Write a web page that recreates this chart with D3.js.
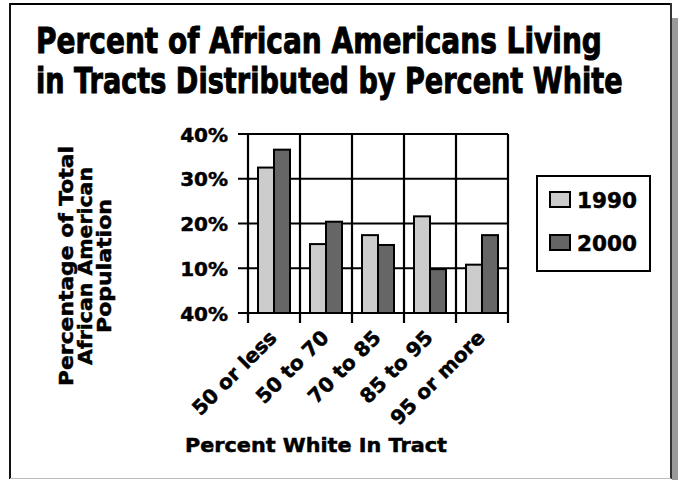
<!DOCTYPE html>
<html>
<head>
<meta charset="utf-8">
<script src="https://cdn.jsdelivr.net/npm/d3@7"></script>
<style>
html,body{margin:0;padding:0;background:#fff;}
svg{display:block;}
text{font-family:"DejaVu Sans",sans-serif;font-weight:bold;fill:#000;stroke:#000;stroke-width:0.5px;}
</style>
</head>
<body>
<svg id="chart" width="678" height="480"></svg>
<script>
// ---- data ----
const categories = ["50 or less", "50 to 70", "70 to 85", "85 to 95", "95 or more"];
const series = ["1990", "2000"];
const values1990 = [32.5, 15.4, 17.4, 21.6, 10.8];
const values2000 = [36.5, 20.4, 15.2, 9.8, 17.4];
const tickValues = [0, 10, 20, 30, 40];
const tickLabels = ["40%", "10%", "20%", "30%", "40%"];
const titleLines = ["Percent of African Americans Living", "in Tracts Distributed by Percent White"];
const yTitleLines = ["Percentage of Total", "African American", "Population"];
const xTitle = "Percent White In Tract";
const colors = {"1990": "#cccccc", "2000": "#666666"};

const svg = d3.select("#chart");

// place a text at (x,y) and squeeze it horizontally to width w
function fitText(parent, str, x, y, size, w, anchor) {
  const t = parent.append("text").attr("x", 0).attr("y", 0).attr("font-size", size)
    .attr("text-anchor", anchor || "start").text(str);
  const n = t.node().getComputedTextLength();
  t.attr("transform", `translate(${x},${y}) scale(${w / n},1)`);
  return t;
}

// frame
svg.append("rect").attr("x", 672).attr("y", 18).attr("width", 6).attr("height", 462).attr("fill", "#9a9a9a");
svg.append("line").attr("x1", 10).attr("x2", 671).attr("y1", 4).attr("y2", 4).attr("stroke", "#000").attr("stroke-width", 2);
svg.append("line").attr("x1", 10).attr("x2", 10).attr("y1", 3).attr("y2", 479).attr("stroke", "#111").attr("stroke-width", 2);
svg.append("line").attr("x1", 671).attr("x2", 671).attr("y1", 3).attr("y2", 479).attr("stroke", "#333").attr("stroke-width", 2);
svg.append("line").attr("x1", 10).attr("x2", 671).attr("y1", 478.5).attr("y2", 478.5).attr("stroke", "#bbb").attr("stroke-width", 1);

// title
const titleY = [53, 93];
const titleW = [566, 587];
titleLines.forEach((t, i) => {
  fitText(svg, t, 36, titleY[i], 35, titleW[i]).style("stroke-width", "1px");
});

// scales
const pLeft = 248, pRight = 508, pTop = 134, pBottom = 313;
const x = d3.scaleBand().domain(categories).range([pLeft, pRight]).paddingInner(0).paddingOuter(0);
const x1 = d3.scaleBand().domain(series).range([0, x.bandwidth()]).paddingInner(0).paddingOuter(0.625);
const y = d3.scaleLinear().domain([0, 40]).range([pBottom, pTop]);

const grid = svg.append("g");
grid.selectAll("line.h").data(tickValues).join("line")
  .attr("x1", pLeft - 10).attr("x2", pRight)
  .attr("y1", d => y(d)).attr("y2", d => y(d))
  .attr("stroke", "#000").attr("stroke-width", 2.2);
const bounds = categories.map(c => x(c)).concat([pRight]);
grid.selectAll("line.v").data(bounds).join("line")
  .attr("x1", d => d).attr("x2", d => d)
  .attr("y1", pTop).attr("y2", pBottom + 10)
  .attr("stroke", "#000").attr("stroke-width", 2.2);

// y tick labels via axis
const yAxis = d3.axisLeft(y).tickValues(tickValues).tickFormat((d, i) => tickLabels[i]).tickSize(0).tickPadding(0);
const ya = svg.append("g").attr("transform", `translate(228,0)`).call(yAxis);
ya.select(".domain").remove();
ya.selectAll("text").attr("font-size", 20).attr("font-family", "DejaVu Sans").attr("font-weight", "bold")
  .attr("fill", "#000").attr("dy", "0.36em");

// bars
const rows = categories.map((c, i) => ({cat: c, vals: [{s: "1990", v: values1990[i]}, {s: "2000", v: values2000[i]}]}));
const groups = svg.append("g").selectAll("g").data(rows).join("g")
  .attr("transform", d => `translate(${x(d.cat)},0)`);
groups.selectAll("rect").data(d => d.vals).join("rect")
  .attr("x", d => x1(d.s)).attr("width", x1.bandwidth())
  .attr("y", d => y(d.v)).attr("height", d => y(0) - y(d.v))
  .attr("fill", d => colors[d.s]).attr("stroke", "#000").attr("stroke-width", 2);

// x tick labels
const xAxis = d3.axisBottom(x).tickSize(0).tickPadding(0);
const xa = svg.append("g").attr("transform", `translate(0,${pBottom})`).call(xAxis);
xa.select(".domain").remove();
xa.selectAll("text")
  .attr("font-size", 20).attr("font-family", "DejaVu Sans").attr("font-weight", "bold").attr("fill", "#000")
  .attr("text-anchor", "end").attr("dy", null).attr("y", null)
  .attr("transform", "translate(4,26) rotate(-45)");

// y axis title
const yt = svg.append("g").attr("transform", "translate(0,266) rotate(-90)");
const yBase = [73, 92, 111];
const yLens = [240, 198, 134];
yTitleLines.forEach((t, i) => {
  fitText(yt, t, 0, yBase[i], 20, yLens[i], "middle");
});

// x axis title
fitText(svg, xTitle, 185, 452, 20, 262);

// legend
const lg = svg.append("g");
lg.append("rect").attr("x", 537).attr("y", 176).attr("width", 113).attr("height", 95)
  .attr("fill", "#fff").attr("stroke", "#000").attr("stroke-width", 2);
const legY = [192, 235];
series.forEach((s, i) => {
  lg.append("rect").attr("x", 550).attr("y", legY[i]).attr("width", 20).attr("height", 15)
    .attr("fill", colors[s]).attr("stroke", "#000").attr("stroke-width", 2);
  fitText(lg, s, 577, legY[i] + 15.5, 21, 60);
});
</script>
</body>
</html>
